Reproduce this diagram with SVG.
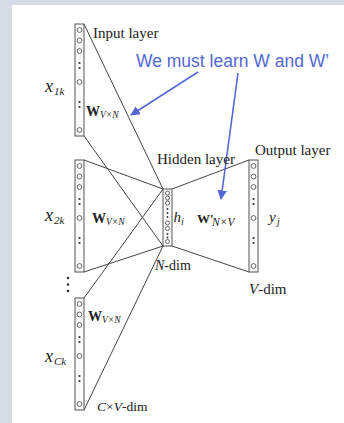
<svg xmlns="http://www.w3.org/2000/svg" width="344" height="423" viewBox="0 0 344 423">
<style>
.box{fill:#fafafa;stroke:#555;stroke-width:1}
.cir{fill:#fff;stroke:#555;stroke-width:0.9}
.dot{fill:#333}
.ln{stroke:#444;stroke-width:1;fill:none}
.bl{stroke:#5468d4;stroke-width:1.6;fill:none}
.t{font-family:"Liberation Serif",serif;fill:#222}
.it{font-style:italic}
.b{font-weight:bold}
.blue{font-family:"Liberation Sans",sans-serif;fill:#5468d4;font-size:17.5px}
</style>
<defs>
<marker id="ah" viewBox="0 0 10 10" refX="9" refY="5" markerWidth="6" markerHeight="6" orient="auto" markerUnits="strokeWidth">
<path d="M0,0 L10,5 L0,10 z" fill="#5468d4"/>
</marker>
<g id="col">
<rect class="box" x="0" y="0" width="9" height="112"/>
<circle class="cir" cx="4.5" cy="6" r="2.4"/>
<circle class="cir" cx="4.5" cy="16.5" r="2.4"/>
<circle class="cir" cx="4.5" cy="27" r="2.4"/>
<circle class="dot" cx="4.5" cy="39" r="1.1"/>
<circle class="dot" cx="4.5" cy="44" r="1.1"/>
<circle class="cir" cx="4.5" cy="58" r="2.4"/>
<circle class="dot" cx="4.5" cy="78" r="1.1"/>
<circle class="dot" cx="4.5" cy="83" r="1.1"/>
<circle class="cir" cx="4.5" cy="106" r="2.4"/>
</g>
</defs>
<rect x="0" y="0" width="344" height="423" fill="#d5dce5"/>
<rect x="12" y="5" width="332" height="418" fill="#fff"/>

<g id="connectors">
<line class="ln" x1="84" y1="24" x2="163" y2="189"/>
<line class="ln" x1="84" y1="136" x2="163" y2="246"/>
<line class="ln" x1="84" y1="160" x2="163" y2="189"/>
<line class="ln" x1="84" y1="272" x2="163" y2="246"/>
<line class="ln" x1="84" y1="298" x2="163" y2="189"/>
<line class="ln" x1="84" y1="410" x2="163" y2="246"/>
<line class="ln" x1="172" y1="189" x2="249" y2="160"/>
<line class="ln" x1="172" y1="246" x2="249" y2="272"/>
<line class="bl" x1="198" y1="72" x2="131" y2="115" marker-end="url(#ah)"/>
<line class="bl" x1="238" y1="73" x2="221" y2="199" marker-end="url(#ah)"/>
</g>

<g id="input1">
<use href="#col" x="75" y="24"/>
<text class="t" x="93" y="38" font-size="15">Input layer</text>
<text class="t it" x="45" y="92" font-size="18">x</text>
<text class="t it" x="54" y="95" font-size="11">1k</text>
<text class="t b" x="86" y="116" font-size="14">W</text>
<text class="t it" x="100" y="118" font-size="9.5">V×N</text>
</g>

<g id="input2">
<use href="#col" x="75" y="160"/>
<text class="t it" x="45" y="221" font-size="18">x</text>
<text class="t it" x="54" y="224" font-size="11">2k</text>
<text class="t b" x="92" y="223" font-size="14">W</text>
<text class="t it" x="106" y="225" font-size="9.5">V×N</text>
</g>

<g id="ellipsis">
<circle class="dot" cx="68" cy="278" r="1.3"/>
<circle class="dot" cx="68" cy="284.5" r="1.3"/>
<circle class="dot" cx="68" cy="291" r="1.3"/>
</g>

<g id="input3">
<use href="#col" x="75" y="298"/>
<text class="t it" x="45" y="362" font-size="18">x</text>
<text class="t it" x="54" y="365" font-size="11">Ck</text>
<text class="t b" x="88" y="321" font-size="14">W</text>
<text class="t it" x="102" y="323" font-size="9.5">V×N</text>
<text class="t" x="97" y="411" font-size="13.5"><tspan class="it">C</tspan>×<tspan class="it">V</tspan>-dim</text>
</g>

<g id="hidden">
<rect class="box" x="163" y="189" width="9" height="57"/>
<circle class="cir" cx="167.5" cy="193" r="2"/>
<circle class="cir" cx="167.5" cy="198" r="2"/>
<circle class="cir" cx="167.5" cy="203" r="2"/>
<circle class="dot" cx="167.5" cy="209" r="0.9"/>
<circle class="dot" cx="167.5" cy="213" r="0.9"/>
<circle class="dot" cx="167.5" cy="217" r="0.9"/>
<circle class="cir" cx="167.5" cy="223" r="2"/>
<circle class="cir" cx="167.5" cy="228.5" r="2"/>
<circle class="dot" cx="167.5" cy="234" r="0.9"/>
<circle class="dot" cx="167.5" cy="237.5" r="0.9"/>
<circle class="cir" cx="167.5" cy="241.5" r="2"/>
<text class="t" x="157" y="164" font-size="15">Hidden layer</text>
<text class="t it" x="173.5" y="222" font-size="15">h</text>
<text class="t it" x="181" y="225" font-size="10">i</text>
<text class="t" x="155" y="270" font-size="14"><tspan class="it">N</tspan>-dim</text>
</g>

<g id="output">
<use href="#col" x="249" y="160"/>
<text class="t" x="255" y="155" font-size="15">Output layer</text>
<text class="t b" x="197" y="223" font-size="13">W'</text>
<text class="t it" x="212" y="226" font-size="11.5">N×V</text>
<text class="t it" x="269" y="222" font-size="15">y</text>
<text class="t it" x="277" y="225" font-size="10">j</text>
<text class="t" x="249" y="294" font-size="15"><tspan class="it">V</tspan>-dim</text>
</g>

<g id="note">
<text class="blue" x="136" y="67">We must learn W and W’</text>
</g>
</svg>
